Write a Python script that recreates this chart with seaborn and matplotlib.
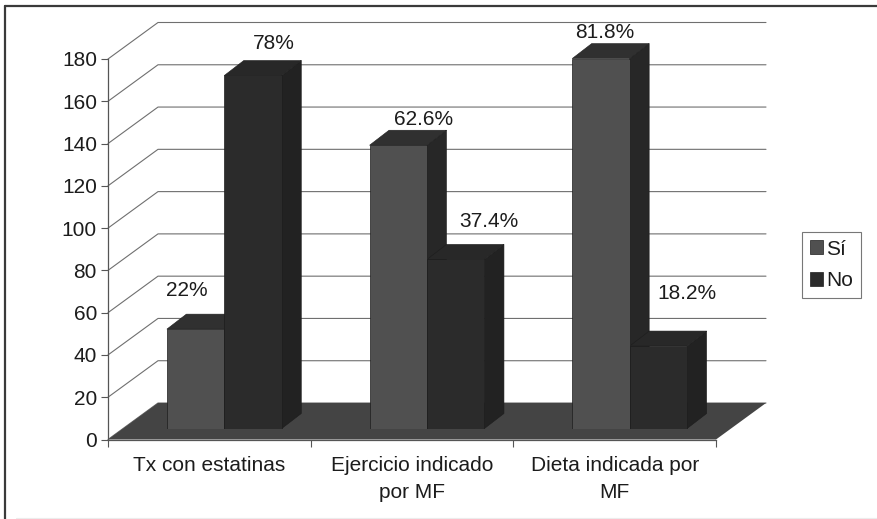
import matplotlib
matplotlib.use("Agg")
import matplotlib.pyplot as plt
from matplotlib.lines import Line2D
from matplotlib.patches import Polygon
import pandas as pd
import seaborn as sns

# Survey counts per indication (214 respondents)
categories = ["Tx con estatinas", "Ejercicio indicado\npor MF", "Dieta indicada por\nMF"]
si_counts = [47, 134, 175]
no_counts = [167, 80, 39]
si_labels = ["22%", "62.6%", "81.8%"]
no_labels = ["78%", "37.4%", "18.2%"]
y_ticks = list(range(0, 181, 20))

W, H = 877, 519
sns.set_theme(style="white")
plt.rcParams["font.family"] = ["Liberation Sans", "DejaVu Sans"]
TEXT = "#1c1c1c"
FONT = 15

fig = plt.figure(figsize=(W / 100, H / 100), dpi=100, facecolor="white")


def px_rect(x0, y0, x1, y1):
    return [x0 / W, 1 - y1 / H, (x1 - x0) / W, (y1 - y0) / H]


# Plot frame: dark scanned rule on top and left, faint one along the bottom
fig.add_artist(Line2D([5 / W, 5 / W], [0, 1 - 6 / H], color="#3a3a3a", lw=1.6))
fig.add_artist(Line2D([5 / W, 1], [1 - 6 / H, 1 - 6 / H], color="#3a3a3a", lw=1.6))
fig.add_artist(Line2D([16 / W, 1], [1.5 / H, 1.5 / H], color="#ececec", lw=0.8))

X0, X1, Y_BASE, Y_TOP = 108, 716, 439.5, 59
ax = fig.add_axes(px_rect(X0, Y_TOP, X1, Y_BASE))
ax.set_xlim(-0.5, 2.5)
ax.set_ylim(0, 180)
ax.patch.set_alpha(0)

px_x = 3 / (X1 - X0)
px_y = 180 / (Y_BASE - Y_TOP)

# Back wall: horizontal rules joined to the axis by receding diagonals
wall_dx, wall_dy = 50 * px_x, 36.5 * px_y
for v in y_ticks:
    ax.plot([-0.5, -0.5 + wall_dx, 2.5 + wall_dx], [v, v + wall_dy, v + wall_dy],
            color="#6f6f6f", lw=0.8, clip_on=False, zorder=1)

# Floor of the chart
ax.add_patch(Polygon([(-0.5, 0), (2.5, 0), (2.5 + wall_dx, wall_dy), (-0.5 + wall_dx, wall_dy)],
                     closed=True, facecolor="#444444", edgecolor="none",
                     clip_on=False, zorder=1.5))

for side in ("top", "right"):
    ax.spines[side].set_visible(False)
for side in ("left", "bottom"):
    ax.spines[side].set_color("#555555")
    ax.spines[side].set_linewidth(0.9)
ax.set_yticks(y_ticks)
ax.set_xticks([-0.5, 0.5, 1.5, 2.5])
ax.set_xticklabels([])
ax.set_xticks([0, 1, 2], labels=categories, minor=True)
ax.tick_params(axis="both", which="major", length=5, width=0.8, color="#555555",
               labelsize=FONT, labelcolor=TEXT, left=True, bottom=True, pad=3)
ax.tick_params(axis="x", which="minor", length=0, labelsize=FONT, labelcolor=TEXT, pad=12)
for t in ax.get_xticklabels(minor=True):
    t.set_linespacing(1.55)

# Bars sit in front of the wall, in a layer shifted along the depth direction
BAR_DX, BAR_DY = 15, 11
bar_ax = fig.add_axes(px_rect(X0 + BAR_DX, Y_TOP - BAR_DY, X1 + BAR_DX, Y_BASE - BAR_DY))
bar_ax.patch.set_alpha(0)

n_groups = len(categories)
table = pd.DataFrame({
    "categoria": categories * 2,
    "respuesta": ["Sí"] * n_groups + ["No"] * n_groups,
    "casos": si_counts + no_counts,
})
palette = {"Sí": "#505050", "No": "#2b2b2b"}
sns.barplot(data=table, x="categoria", y="casos", hue="respuesta", hue_order=["Sí", "No"],
            palette=palette, width=0.567, gap=0, saturation=1, linewidth=0.5,
            edgecolor="#1d1d1d", ax=bar_ax, legend=True)
bar_ax.set_xlim(-0.5, 2.5)
bar_ax.set_ylim(0, 180)
bar_ax.axis("off")

# Extrude each bar: top and right faces built from its drawn rectangle
depth_x, depth_y = 19.5 * px_x, 15 * px_y
shades = {"Sí": ("#303030", "#272727"), "No": ("#282828", "#222222")}
label_shift = {"22%": (-9, 39), "78%": (21, 32), "62.6%": (25, 26),
               "37.4%": (33, 38), "81.8%": (4, 26), "18.2%": (29, 53)}
series = [("Sí", si_labels), ("No", no_labels)]
for container, (name, labels) in zip(bar_ax.containers, series):
    top_c, side_c = shades[name]
    for rect, text in zip(container.patches, labels):
        x0, x1, v = rect.get_x(), rect.get_x() + rect.get_width(), rect.get_height()
        rect.set_zorder(4)
        bar_ax.add_patch(Polygon([(x1, 0), (x1 + depth_x, depth_y), (x1 + depth_x, v + depth_y), (x1, v)],
                                 closed=True, facecolor=side_c, edgecolor="#1d1d1d", lw=0.4,
                                 clip_on=False, zorder=3))
        bar_ax.add_patch(Polygon([(x0, v), (x1, v), (x1 + depth_x, v + depth_y), (x0 + depth_x, v + depth_y)],
                                 closed=True, facecolor=top_c, edgecolor="#1d1d1d", lw=0.4,
                                 clip_on=False, zorder=3))
        sx, sy = label_shift[text]
        bar_ax.annotate(text, xy=((x0 + x1) / 2, v), xytext=(sx * 0.72, sy * 0.72),
                        textcoords="offset points", ha="center", va="center",
                        fontsize=FONT, color=TEXT, annotation_clip=False, zorder=6)

legend = bar_ax.legend(loc="upper left", bbox_to_anchor=(802 / W, 1 - 232 / H),
                       bbox_transform=fig.transFigure, borderaxespad=0, frameon=True,
                       fancybox=False, edgecolor="#777777", framealpha=1, fontsize=FONT,
                       handlelength=0.65, handleheight=0.65, handletextpad=0.15,
                       labelspacing=0.62, borderpad=0.36, labelcolor=TEXT)
legend.get_frame().set_linewidth(0.8)

fig.savefig("out.png", dpi=100)
